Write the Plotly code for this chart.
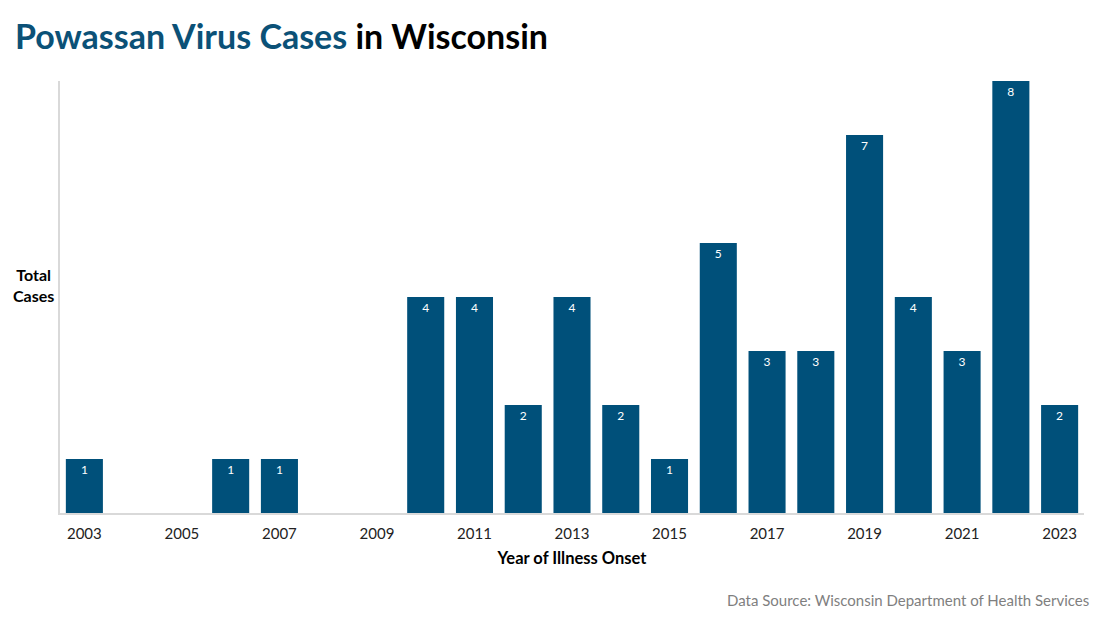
import plotly.graph_objects as go

years = list(range(2003, 2024))
cases = [1, 0, 0, 1, 1, 0, 0, 4, 4, 2, 4, 2, 1, 5, 3, 3, 7, 4, 3, 8, 2]
tick_years = [2003, 2005, 2007, 2009, 2011, 2013, 2015, 2017, 2019, 2021, 2023]

BLUE = "#00507A"
FONT = "Lato"

# page body has an 8px margin; figure is sized/positioned to compensate
OFF = 8
W, H = 1084, 603
L, R, T, B = 60 - OFF, 8, 81 - OFF, H - (513 - OFF)
PW, PH = W - L - R, H - T - B


def px2paper(sx, sy):
    fx, fy = sx - OFF, sy - OFF
    return (fx - L) / PW, (H - B - fy) / PH


labels = [str(c) if c > 0 else "" for c in cases]

fig = go.Figure(go.Bar(
    x=years, y=cases, width=0.76,
    marker=dict(color=BLUE, line=dict(width=0)),
    text=labels, textposition="inside", insidetextanchor="end",
    textfont=dict(color="white", size=12, family=FONT),
    hoverinfo="x+y",
))

tc_x, tc_y = px2paper(33, 285)
ds_x, ds_y = px2paper(1091, 600)

fig.update_layout(
    width=W, height=H,
    paper_bgcolor="white", plot_bgcolor="white",
    margin=dict(l=L, r=R, t=T, b=B, autoexpand=False),
    showlegend=False,
    font=dict(family=FONT),
    title=dict(
        text="<b><span style='color:#0B5177'>Powassan Virus Cases</span> in Wisconsin</b>",
        x=(15 - OFF) / W, xanchor="left", y=1 - (37 - OFF) / H, yanchor="middle",
        font=dict(size=34, family=FONT, color="black"),
    ),
    xaxis=dict(
        range=[2002.5, 2023.5], tickmode="array", tickvals=tick_years,
        ticktext=[str(t) for t in tick_years],
        tickfont=dict(size=15, color="#222", family=FONT),
        showgrid=False, zeroline=False, showline=True,
        linecolor="#D9D9D9", linewidth=1.5, ticks="outside", ticklen=6,
        tickcolor="rgba(0,0,0,0)",
        title=dict(text="<b>Year of Illness Onset</b>",
                   font=dict(size=16.5, color="black", family=FONT), standoff=12),
    ),
    yaxis=dict(
        range=[0, 8], showticklabels=False, showgrid=False, zeroline=False,
        showline=True, linecolor="#D9D9D9", linewidth=1.5, ticks="",
    ),
    annotations=[
        dict(text="<b>Total<br>Cases</b>", x=tc_x, y=tc_y, xref="paper", yref="paper",
             xanchor="center", yanchor="middle",
             showarrow=False, font=dict(size=16, color="black", family=FONT), align="center"),
        dict(text="Data Source: Wisconsin Department of Health Services", x=ds_x, y=ds_y,
             xref="paper", yref="paper",
             showarrow=False, font=dict(size=15, color="#7F7F7F", family=FONT),
             xanchor="right", yanchor="middle"),
    ],
)

fig.write_html("out.html")
